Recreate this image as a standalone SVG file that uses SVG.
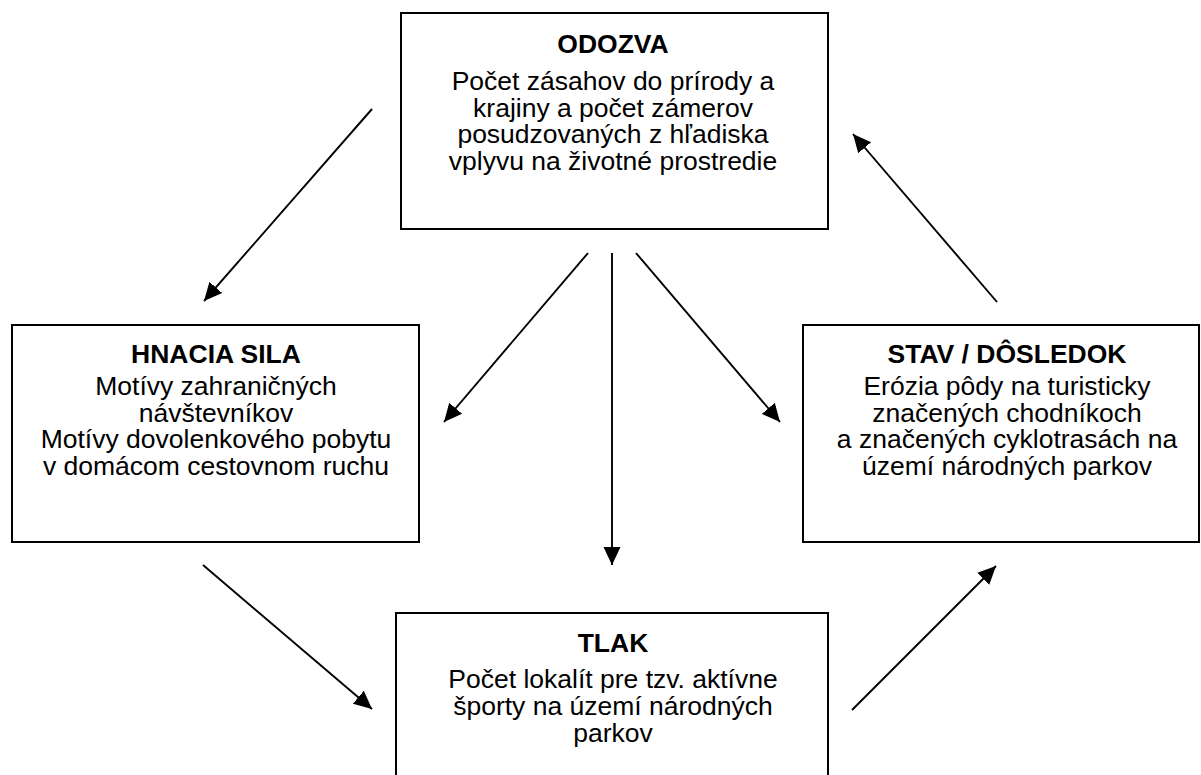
<svg xmlns="http://www.w3.org/2000/svg" width="1201" height="775" viewBox="0 0 1201 775">
<style>
.box{fill:#fff;stroke:#000;stroke-width:2}
.t{font-family:"Liberation Sans",Arial,sans-serif;font-size:26.5px;text-anchor:middle;fill:#000}
.h{font-weight:bold}
.c{stroke:#000;stroke-width:1.9;fill:none;marker-end:url(#ah)}
</style>
<defs>
<marker id="ah" markerUnits="userSpaceOnUse" markerWidth="20" markerHeight="20" viewBox="0 0 20 20" refX="18" refY="10" orient="auto">
<path d="M0,1.5 L18,10 L0,18.5 Z" fill="#000"/>
</marker>
</defs>
<rect width="1201" height="775" fill="#fff"/>
<g id="connectors">
<line class="c" x1="372" y1="109" x2="204" y2="301"/>
<line class="c" x1="588" y1="253" x2="444" y2="422"/>
<line class="c" x1="612" y1="253" x2="612" y2="565"/>
<line class="c" x1="636" y1="253" x2="780" y2="422"/>
<line class="c" x1="203" y1="565" x2="372" y2="709"/>
<line class="c" x1="852" y1="710" x2="996" y2="566"/>
<line class="c" x1="997" y1="302" x2="853" y2="134"/>
</g>
<g id="odozva">
<rect class="box" x="401" y="13" width="427" height="216"/>
<text class="t h" x="613" y="53">ODOZVA</text>
<text class="t" x="613" y="90">Počet zásahov do prírody a</text>
<text class="t" x="613" y="116.7">krajiny a počet zámerov</text>
<text class="t" x="613" y="143.3">posudzovaných z hľadiska</text>
<text class="t" x="613" y="170">vplyvu na životné prostredie</text>
</g>
<g id="hnacia-sila">
<rect class="box" x="12" y="325" width="407" height="217"/>
<text class="t h" x="216" y="363">HNACIA SILA</text>
<text class="t" x="216" y="395">Motívy zahraničných</text>
<text class="t" x="216" y="421.7">návštevníkov</text>
<text class="t" x="216" y="448.3">Motívy dovolenkového pobytu</text>
<text class="t" x="216" y="475">v domácom cestovnom ruchu</text>
</g>
<g id="stav-dosledok">
<rect class="box" x="803" y="325" width="396" height="217"/>
<text class="t h" x="1007" y="363">STAV / DÔSLEDOK</text>
<text class="t" x="1007" y="395">Erózia pôdy na turisticky</text>
<text class="t" x="1007" y="421.7">značených chodníkoch</text>
<text class="t" x="1007" y="448.3">a značených cyklotrasách na</text>
<text class="t" x="1007" y="475">území národných parkov</text>
</g>
<g id="tlak">
<rect class="box" x="396" y="613" width="432" height="180"/>
<text class="t h" x="613" y="651.7">TLAK</text>
<text class="t" x="613" y="688.3">Počet lokalít pre tzv. aktívne</text>
<text class="t" x="613" y="715">športy na území národných</text>
<text class="t" x="613" y="741.7">parkov</text>
</g>
</svg>
